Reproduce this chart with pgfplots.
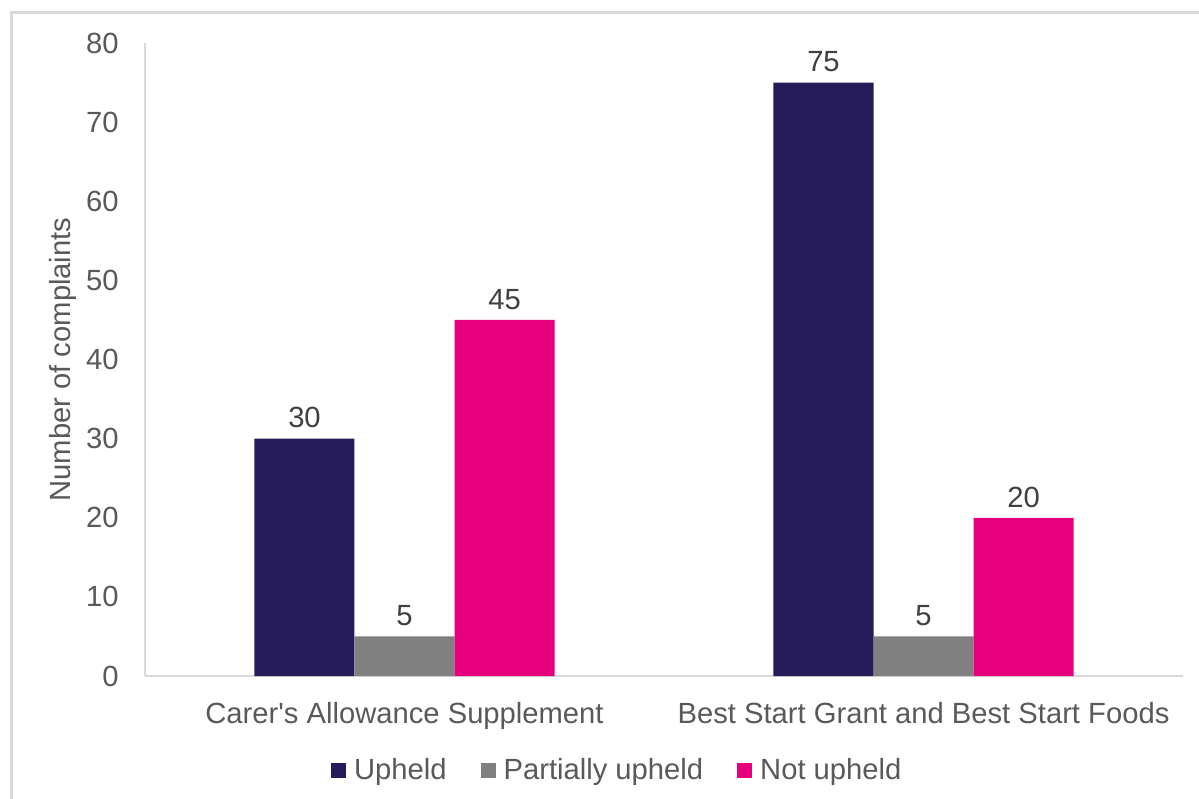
\documentclass[border=0pt]{standalone}
\usepackage{fontspec}
\setmainfont{Liberation Sans}
\usepackage{pgfplots}
\pgfplotsset{compat=1.18}
\definecolor{navy}{HTML}{251C59}
\definecolor{pgrey}{HTML}{808080}
\definecolor{pink}{HTML}{E6007E}
\definecolor{txt}{HTML}{595959}
\definecolor{lbl}{HTML}{404040}
\definecolor{axl}{HTML}{D9D9D9}
\newcommand{\fs}{\fontsize{14.6pt}{16.6pt}\selectfont}
\begin{document}
\begin{tikzpicture}
\useasboundingbox (0,0) rectangle (599.5pt,399pt);
\draw[color=axl, line width=1.5pt] (5.5pt,-5pt) -- (5.5pt,392.5pt) -- (610pt,392.5pt);
\begin{axis}[
  at={(72.5pt,61pt)}, anchor=south west,
  scale only axis, width=519pt, height=316.5pt,
  xmin=-0.5, xmax=1.5, ymin=0, ymax=80,
  axis x line=bottom, axis y line=left,
  axis line style={draw=axl, line width=1pt, -},
  xtick={0,1},
  xticklabels={Carer\textquotesingle s Allowance Supplement, Best Start Grant and Best Start Foods},
  ytick={0,10,...,80},
  major tick length=0pt,
  /pgf/number format/assume math mode=true,
  tick label style={font=\fs, text=txt},
  xticklabel style={anchor=north, inner sep=0pt, yshift=-13pt},
  yticklabel style={anchor=east, inner sep=0pt, xshift=-13pt},
  ylabel={Number of complaints},
  every axis y label/.style={at={(axis description cs:-0.079,0.5)}, rotate=90, anchor=center, font=\fs, text=txt},
  ybar, bar width=0.1927,
  nodes near coords,
  every node near coord/.append style={font=\fs, text=lbl, anchor=south, inner sep=0pt, yshift=5pt},
  legend columns=3,
  legend style={at={(axis description cs:0.454,0)}, anchor=center, yshift=-47pt, draw=none, fill=none, font=\fs, text=txt,
    /tikz/every odd column/.append style={column sep=4pt},
    /tikz/every even column/.append style={column sep=17pt},
    nodes={inner sep=0pt}},
  legend image code/.code={\fill[#1,draw=none] (0pt,-3.75pt) rectangle (7.5pt,3.75pt);},
]
\addplot[fill=navy, draw=none, bar shift=-0.1927] coordinates {(0,30) (1,75)};
\addplot[fill=pgrey, draw=none, bar shift=0] coordinates {(0,5) (1,5)};
\addplot[fill=pink, draw=none, bar shift=0.1927] coordinates {(0,45) (1,20)};
\legend{Upheld, Partially upheld, Not upheld}
\end{axis}
\end{tikzpicture}
\end{document}
